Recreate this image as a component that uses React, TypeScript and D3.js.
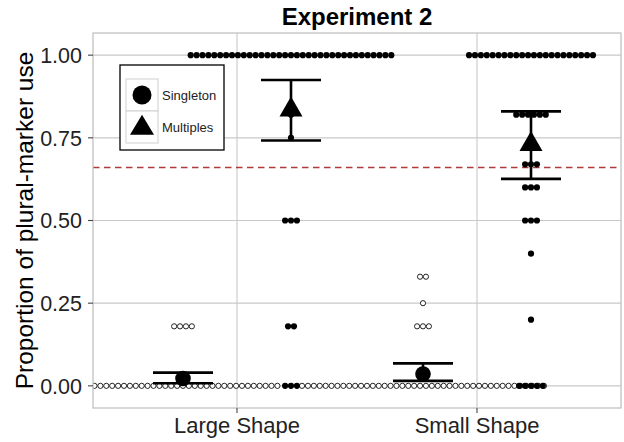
import React from "react";
import * as d3 from "d3";

const categories = ["Large Shape", "Small Shape"];
const groups = ["Singleton", "Multiples"];
const yTicks = [0, 0.25, 0.5, 0.75, 1.0];
const yTickLabels = ["0.00", "0.25", "0.50", "0.75", "1.00"];

// [value, number of participants]
const largeSingleton: [number, number][] = [[0, 33], [0.18, 4]];
const smallSingleton: [number, number][] = [[0, 42], [0.18, 3], [0.25, 1], [0.33, 2]];
const largeMultiples: [number, number][] = [[0, 3], [0.18, 2], [0.5, 3], [0.75, 1], [0.82, 1], [1, 35]];
const smallMultiples: [number, number][] = [[0, 5], [0.2, 1], [0.4, 1], [0.5, 3], [0.6, 3], [0.67, 3], [0.82, 6], [1, 22]];

// means and confidence intervals
const summaryMean = [0.022, 0.036, 0.835, 0.73]; // LS, SS, LM, SM
const summaryLow = [0.008, 0.015, 0.742, 0.626];
const summaryHigh = [0.04, 0.068, 0.925, 0.83];
const chanceLine = 0.66;

const W = 624, H = 442;
const PL = 93, PR = 621, PT = 33, PB = 408;

export default function App() {
  const x = d3.scalePoint<string>().domain(categories).range([237, 477]);
  const dodge = d3.scalePoint<string>().domain(groups).range([-54, 54]);
  const y = d3.scaleLinear().domain([-0.067, 1.067]).range([PB, PT]);
  const pitch = 5.9;

  const sets = [
    { cat: "Large Shape", grp: "Singleton", rows: largeSingleton },
    { cat: "Small Shape", grp: "Singleton", rows: smallSingleton },
    { cat: "Large Shape", grp: "Multiples", rows: largeMultiples },
    { cat: "Small Shape", grp: "Multiples", rows: smallMultiples },
  ];
  const summaries = [
    { cat: "Large Shape", grp: "Singleton", i: 0 },
    { cat: "Small Shape", grp: "Singleton", i: 1 },
    { cat: "Large Shape", grp: "Multiples", i: 2 },
    { cat: "Small Shape", grp: "Multiples", i: 3 },
  ];

  const font = "'Liberation Sans', Arial, Helvetica, sans-serif";
  const tri = (cx: number, cy: number, s: number, h: number) =>
    `M${cx},${cy - (2 * h) / 3} L${cx + s / 2},${cy + h / 3} L${cx - s / 2},${cy + h / 3} Z`;

  return (
    <svg width={W} height={H} style={{ position: "absolute", left: 0, top: 0, background: "#fff" }} fontFamily={font}>
      <defs>
        <clipPath id="panel">
          <rect x={PL} y={PT} width={PR - PL} height={PB - PT} />
        </clipPath>
      </defs>
      <rect x={0} y={0} width={W} height={H} fill="#fff" />
      {/* grid */}
      {yTicks.map((t) => (
        <line key={"gy" + t} x1={PL} x2={PR} y1={y(t)} y2={y(t)} stroke="#c9c9c9" strokeWidth={1.1} />
      ))}
      {categories.map((c) => (
        <line key={"gx" + c} x1={x(c)} x2={x(c)} y1={PT} y2={PB} stroke="#c9c9c9" strokeWidth={1.1} />
      ))}
      {/* chance line */}
      <line x1={PL} x2={PR} y1={y(chanceLine)} y2={y(chanceLine)} stroke="#b03a3a" strokeWidth={1.5} strokeDasharray="6.5,4.5" />
      <g clipPath="url(#panel)">
        {sets.map((s) =>
          s.rows.map(([v, n]) =>
            d3.range(n).map((k) => {
              const cx = (x(s.cat) as number) + (dodge(s.grp) as number) + (k - (n - 1) / 2) * pitch;
              return s.grp === "Singleton" ? (
                <circle key={s.cat + s.grp + v + "-" + k} cx={cx} cy={y(v)} r={2.6} fill="#fff" stroke="#000" strokeWidth={0.85} />
              ) : (
                <circle key={s.cat + s.grp + v + "-" + k} cx={cx} cy={y(v)} r={3.1} fill="#000" />
              );
            })
          )
        )}
        {summaries.map((s) => {
          const cx = (x(s.cat) as number) + (dodge(s.grp) as number);
          return (
            <g key={"eb" + s.i}>
              <line x1={cx - 30} x2={cx + 30} y1={y(summaryHigh[s.i])} y2={y(summaryHigh[s.i])} stroke="#000" strokeWidth={2.6} />
              <line x1={cx - 30} x2={cx + 30} y1={y(summaryLow[s.i])} y2={y(summaryLow[s.i])} stroke="#000" strokeWidth={2.6} />
              <line x1={cx} x2={cx} y1={y(summaryHigh[s.i])} y2={y(summaryLow[s.i])} stroke="#000" strokeWidth={2.6} />
            </g>
          );
        })}
        {summaries.map((s) => {
          const cx = (x(s.cat) as number) + (dodge(s.grp) as number);
          return s.grp === "Singleton" ? (
            <circle key={"m" + s.i} cx={cx} cy={y(summaryMean[s.i])} r={7.8} fill="#000" />
          ) : (
            <path key={"m" + s.i} d={tri(cx, y(summaryMean[s.i]), 23, 20)} fill="#000" />
          );
        })}
      </g>
      {/* panel border */}
      <rect x={PL} y={PT} width={PR - PL} height={PB - PT} fill="none" stroke="#bdbdbd" strokeWidth={1.2} />
      {/* y axis */}
      {yTicks.map((t, i) => (
        <g key={"yt" + t}>
          <line x1={PL - 5} x2={PL} y1={y(t)} y2={y(t)} stroke="#444" strokeWidth={1.1} />
          <text x={PL - 11} y={y(t)} dy="0.36em" textAnchor="end" fontSize={21.5} fill="#222">
            {yTickLabels[i]}
          </text>
        </g>
      ))}
      {/* x axis */}
      {categories.map((c) => (
        <g key={"xt" + c}>
          <line x1={x(c)} x2={x(c)} y1={PB} y2={PB + 5} stroke="#444" strokeWidth={1.1} />
          <text x={x(c)} y={433} textAnchor="middle" fontSize={22} fill="#222">
            {c}
          </text>
        </g>
      ))}
      <text transform={`translate(33,${(PT + PB) / 2}) rotate(-90)`} textAnchor="middle" fontSize={24.5} fill="#000">
        Proportion of plural-marker use
      </text>
      <text x={(PL + PR) / 2} y={25} textAnchor="middle" fontSize={24} fontWeight="bold" fill="#000">
        Experiment 2
      </text>
      {/* legend */}
      <g>
        <rect x={120} y={65} width={104} height={85} fill="#fff" stroke="#000" strokeWidth={1.3} />
        <rect x={126} y={79} width={32} height={32} fill="#fff" stroke="#cfcfcf" strokeWidth={1} />
        <rect x={126} y={111} width={32} height={32} fill="#fff" stroke="#cfcfcf" strokeWidth={1} />
        <circle cx={142} cy={95} r={9.5} fill="#000" />
        <path d={tri(142, 128, 24, 20)} fill="#000" />
        <text x={162} y={95} dy="0.36em" fontSize={13} fill="#222">{groups[0]}</text>
        <text x={162} y={127} dy="0.36em" fontSize={13} fill="#222">{groups[1]}</text>
      </g>
    </svg>
  );
}
